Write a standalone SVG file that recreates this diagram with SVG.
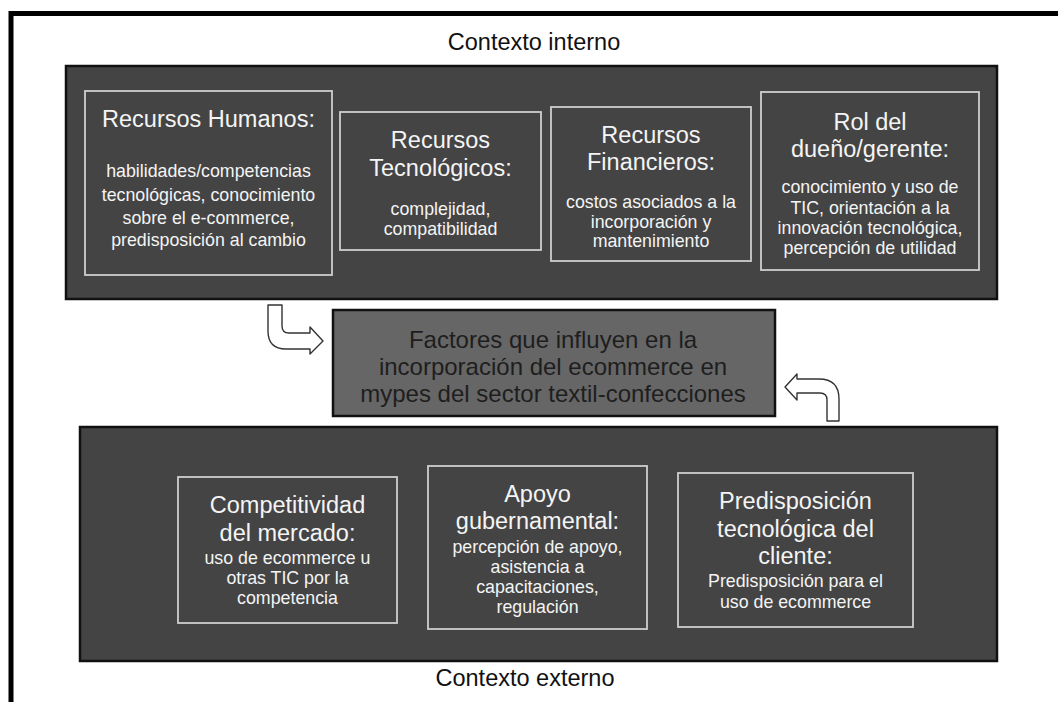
<svg xmlns="http://www.w3.org/2000/svg" width="1058" height="702" viewBox="0 0 1058 702">
<style>
.panel{fill:#444444;stroke:#111111;stroke-width:2.5}
.box{fill:#444444;stroke:#cfcfcf;stroke-width:1.8}
.t{font-family:"Liberation Sans",Arial,sans-serif;fill:#f4f4f4;text-anchor:middle}
.h{font-size:23.5px}
.c{font-size:24px;fill:#1e1e1e}
.b{font-size:17.8px}
.ctx{font-family:"Liberation Sans",Arial,sans-serif;font-size:23.5px;fill:#111111;text-anchor:middle}
.arrow{fill:#ffffff;stroke:#333333;stroke-width:1.4;stroke-linejoin:round}
</style>
<rect x="0" y="0" width="1058" height="702" fill="#ffffff"/>
<rect x="11" y="13.5" width="1100" height="800" fill="#ffffff" stroke="#000000" stroke-width="5"/>

<g id="contexto-interno-label"><text class="ctx" x="534" y="50">Contexto interno</text></g>
<g id="contexto-interno"><rect class="panel" x="66" y="66" width="931" height="233"/></g>

<g id="recursos-humanos">
<rect class="box" x="85" y="91" width="247" height="184"/>
<text class="t h" x="208.5" y="127">Recursos Humanos:</text>
<text class="t b" x="208.5" y="177">habilidades/competencias</text>
<text class="t b" x="208.5" y="201">tecnológicas, conocimiento</text>
<text class="t b" x="208.5" y="224">sobre el e-commerce,</text>
<text class="t b" x="208.5" y="246">predisposición al cambio</text>
</g>

<g id="recursos-tecnologicos">
<rect class="box" x="340" y="112" width="201" height="138"/>
<text class="t h" x="440.5" y="148">Recursos</text>
<text class="t h" x="440.5" y="176">Tecnológicos:</text>
<text class="t b" x="440.5" y="215">complejidad,</text>
<text class="t b" x="440.5" y="235">compatibilidad</text>
</g>

<g id="recursos-financieros">
<rect class="box" x="551" y="107" width="200" height="154"/>
<text class="t h" x="651" y="143">Recursos</text>
<text class="t h" x="651" y="170">Financieros:</text>
<text class="t b" x="651" y="208">costos asociados a la</text>
<text class="t b" x="651" y="228">incorporación y</text>
<text class="t b" x="651" y="247">mantenimiento</text>
</g>

<g id="rol-dueno">
<rect class="box" x="761" y="92" width="218" height="178"/>
<text class="t h" x="870" y="130">Rol del</text>
<text class="t h" x="870" y="157">dueño/gerente:</text>
<text class="t b" x="870" y="193">conocimiento y uso de</text>
<text class="t b" x="870" y="214">TIC, orientación a la</text>
<text class="t b" x="870" y="234">innovación tecnológica,</text>
<text class="t b" x="870" y="254">percepción de utilidad</text>
</g>

<g id="factores">
<rect x="333" y="310" width="442" height="106" fill="#666666" stroke="#111111" stroke-width="2.5"/>
<text class="t c" x="553" y="348">Factores que influyen en la</text>
<text class="t c" x="553" y="375">incorporación del ecommerce en</text>
<text class="t c" x="553" y="402">mypes del sector textil-confecciones</text>
</g>

<g id="connectors">
<path class="arrow" d="M268 305 L282 305 L282 326 Q282 333 289 333 L310 333 L310 327 L323 341 L310 354 L310 349 L286 349 Q268 349 268 331 Z"/>
<path class="arrow" d="M785 387 L797 374 L797 379 L819 379 Q839 379 839 399 L839 421 L827 421 L827 400 Q827 393 820 393 L797 393 L797 400 Z"/>
</g>

<g id="contexto-externo"><rect class="panel" x="80" y="427" width="917" height="234"/></g>

<g id="competitividad">
<rect class="box" x="178" y="477" width="219" height="146"/>
<text class="t h" x="287.5" y="513">Competitividad</text>
<text class="t h" x="287.5" y="541">del mercado:</text>
<text class="t b" x="287.5" y="564">uso de ecommerce u</text>
<text class="t b" x="287.5" y="584">otras TIC por la</text>
<text class="t b" x="287.5" y="604">competencia</text>
</g>

<g id="apoyo">
<rect class="box" x="428" y="466" width="219" height="163"/>
<text class="t h" x="537.5" y="502">Apoyo</text>
<text class="t h" x="537.5" y="529">gubernamental:</text>
<text class="t b" x="537.5" y="553">percepción de apoyo,</text>
<text class="t b" x="537.5" y="573">asistencia a</text>
<text class="t b" x="537.5" y="593">capacitaciones,</text>
<text class="t b" x="537.5" y="613">regulación</text>
</g>

<g id="predisposicion">
<rect class="box" x="678" y="473" width="235" height="154"/>
<text class="t h" x="795.5" y="509">Predisposición</text>
<text class="t h" x="795.5" y="537">tecnológica del</text>
<text class="t h" x="795.5" y="564">cliente:</text>
<text class="t b" x="795.5" y="587">Predisposición para el</text>
<text class="t b" x="795.5" y="608">uso de ecommerce</text>
</g>

<g id="contexto-externo-label"><text class="ctx" x="525" y="686">Contexto externo</text></g>
</svg>
